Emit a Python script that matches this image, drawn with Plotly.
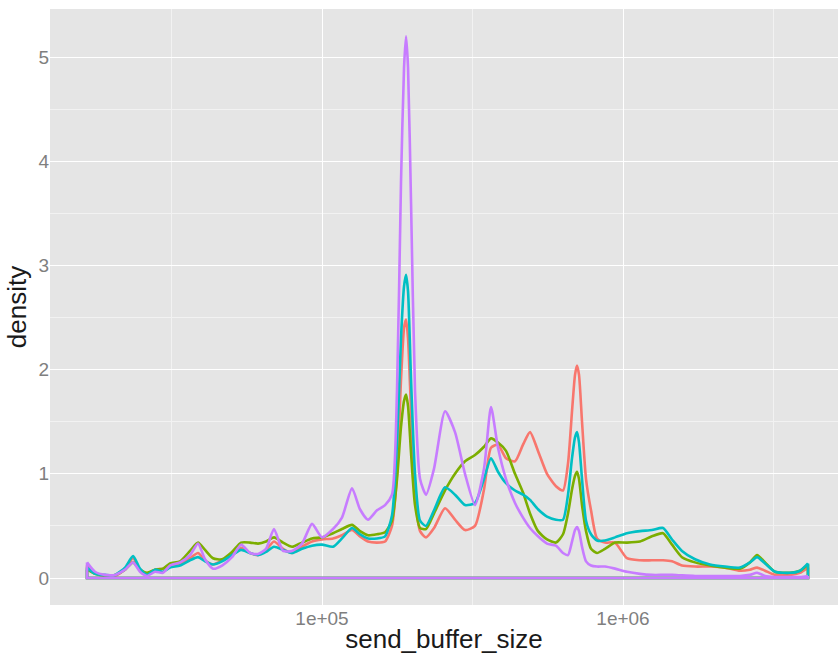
import plotly.graph_objects as go

# send_buffer_size sample points (shared grid)
send_buffer_size = [
    16570, 17610, 19020, 20530, 22160, 23560, 24850, 26220, 27870, 29630,
    31260, 33750, 36430, 38730, 40860, 43440, 46550, 50230, 53820, 57670,
    61300, 65160, 69260, 74210, 79530, 85820, 92640, 100000, 108800, 116500,
    125800, 133700, 142200, 152300, 162000, 170800, 177500, 183000, 187300, 190200,
    193100, 197600, 203700, 211700, 221600, 235600, 256300, 276600, 298600, 322300,
    345300, 364300, 384300, 408600, 437700, 465400, 491000, 521900, 559200, 598900,
    631900, 656600, 677000, 692700, 703400, 714300, 730900, 753600, 783000, 819700,
    871400, 940600, 1031000, 1139000, 1248000, 1358000, 1455000, 1570000, 1735000, 1945000,
    2183000, 2447000, 2642000, 2788000, 2964000, 3199000, 3588000, 3873000, 4117000,
]

density_red = [
    0.12, 0.05, 0.02, 0.02, 0.08, 0.19, 0.08, 0.04, 0.08, 0.09,
    0.12, 0.14, 0.19, 0.24, 0.17, 0.13, 0.17, 0.23, 0.29, 0.24,
    0.22, 0.27, 0.35, 0.28, 0.24, 0.30, 0.35, 0.37, 0.38, 0.41,
    0.46, 0.40, 0.35, 0.34, 0.35, 0.50, 1.00, 1.90, 2.40, 2.48,
    2.30, 1.60, 0.80, 0.45, 0.39, 0.48, 0.67, 0.56, 0.46, 0.50,
    0.85, 1.25, 1.28, 1.15, 1.12, 1.28, 1.40, 1.22, 1.00, 0.88,
    0.84, 1.10, 1.60, 1.95, 2.04, 1.95, 1.50, 0.95, 0.65, 0.38,
    0.34, 0.34, 0.19, 0.17, 0.17, 0.17, 0.16, 0.12, 0.11, 0.11,
    0.10, 0.07, 0.08, 0.10, 0.07, 0.03, 0.03, 0.05, 0.10,
]

density_green = [
    0.08, 0.04, 0.02, 0.03, 0.08, 0.15, 0.08, 0.05, 0.08, 0.09,
    0.14, 0.16, 0.26, 0.34, 0.27, 0.19, 0.18, 0.25, 0.34, 0.34,
    0.33, 0.35, 0.39, 0.34, 0.30, 0.34, 0.38, 0.39, 0.43, 0.47,
    0.51, 0.45, 0.41, 0.42, 0.44, 0.55, 0.95, 1.45, 1.70, 1.76,
    1.65, 1.20, 0.70, 0.48, 0.47, 0.62, 0.84, 1.00, 1.12, 1.18,
    1.26, 1.34, 1.30, 1.22, 1.00, 0.82, 0.62, 0.45, 0.37, 0.34,
    0.42, 0.62, 0.85, 0.98, 1.02, 0.95, 0.70, 0.45, 0.28, 0.24,
    0.28, 0.34, 0.34, 0.35, 0.40, 0.43, 0.32, 0.20, 0.15, 0.12,
    0.10, 0.09, 0.15, 0.22, 0.15, 0.06, 0.05, 0.07, 0.13,
]

density_cyan = [
    0.10, 0.04, 0.03, 0.03, 0.10, 0.21, 0.09, 0.03, 0.08, 0.06,
    0.10, 0.12, 0.17, 0.20, 0.16, 0.13, 0.16, 0.22, 0.27, 0.24,
    0.22, 0.25, 0.30, 0.27, 0.24, 0.28, 0.31, 0.32, 0.30, 0.38,
    0.48, 0.42, 0.38, 0.38, 0.40, 0.60, 1.30, 2.30, 2.80, 2.91,
    2.75, 1.90, 1.00, 0.55, 0.50, 0.65, 0.87, 0.80, 0.70, 0.72,
    0.95, 1.15, 1.02, 0.91, 0.84, 0.80, 0.75, 0.66, 0.59, 0.56,
    0.56, 0.80, 1.15, 1.35, 1.40, 1.30, 0.95, 0.55, 0.42, 0.36,
    0.36, 0.39, 0.43, 0.45, 0.46, 0.48, 0.37, 0.26, 0.18, 0.13,
    0.11, 0.10, 0.15, 0.20, 0.14, 0.06, 0.05, 0.07, 0.14,
]

density_purple = [
    0.15, 0.06, 0.03, 0.03, 0.08, 0.15, 0.06, 0.02, 0.06, 0.05,
    0.12, 0.15, 0.22, 0.33, 0.18, 0.09, 0.12, 0.20, 0.32, 0.24,
    0.23, 0.28, 0.47, 0.26, 0.26, 0.33, 0.52, 0.39, 0.47, 0.58,
    0.86, 0.66, 0.56, 0.65, 0.70, 0.80, 1.80, 3.80, 4.90, 5.20,
    4.90, 3.60, 1.80, 0.95, 0.80, 1.05, 1.60, 1.40, 1.00, 0.70,
    1.05, 1.64, 1.25, 0.95, 0.72, 0.58, 0.48, 0.40, 0.33, 0.31,
    0.24, 0.22, 0.35, 0.46, 0.49, 0.45, 0.30, 0.16, 0.12, 0.11,
    0.11, 0.09, 0.06, 0.04, 0.03, 0.03, 0.03, 0.025, 0.02, 0.02,
    0.02, 0.02, 0.03, 0.05, 0.02, 0.01, 0.01, 0.01, 0.02,
]

series = [
    ("a", density_red, "#F8766D"),
    ("b", density_green, "#7CAE00"),
    ("c", density_cyan, "#00BFC4"),
    ("d", density_purple, "#C77CFF"),
]

y_ticks = [0, 1, 2, 3, 4, 5]
x_ticks = [1e5, 1e6]
x_tick_text = ["1e+05", "1e+06"]
x_minor = [10 ** 4.5, 10 ** 5.5, 10 ** 6.5]

fig = go.Figure()
for name, ys, color in series:
    fig.add_trace(go.Scatter(
        x=send_buffer_size, y=ys, mode="lines", name=name,
        line=dict(color=color, width=2.6, shape="spline", smoothing=0.6),
        showlegend=False, hoverinfo="skip",
    ))
    # outline of the density polygon: vertical edges + baseline
    fig.add_trace(go.Scatter(
        x=[send_buffer_size[0], send_buffer_size[0], send_buffer_size[-1], send_buffer_size[-1]],
        y=[ys[0], 0, 0, ys[-1]], mode="lines",
        line=dict(color=color, width=2.6),
        showlegend=False, hoverinfo="skip",
    ))

font_family = "Liberation Sans, Arial, sans-serif"
fig.update_layout(
    width=838, height=654,
    margin=dict(l=50, r=0, t=9, b=49),
    paper_bgcolor="white",
    plot_bgcolor="#E5E5E5",
    font=dict(family=font_family),
    showlegend=False,
)
fig.update_xaxes(
    type="log",
    range=[4.0963, 6.7143],
    tickvals=x_ticks, ticktext=x_tick_text,
    tickfont=dict(size=19, color="#7F7F7F", family=font_family),
    showgrid=True, gridcolor="white", gridwidth=1.3,
    minor=dict(tickvals=x_minor, showgrid=True, gridcolor="#F2F2F2", gridwidth=0.7),
    zeroline=False, showline=False, ticks="",
    title=dict(text="send_buffer_size", font=dict(size=26, color="#1A1A1A", family=font_family), standoff=2),
    automargin=False,
)
fig.update_yaxes(
    range=[-0.259, 5.461],
    tickvals=y_ticks,
    tickfont=dict(size=19, color="#7F7F7F", family=font_family),
    showgrid=True, gridcolor="white", gridwidth=1.3,
    minor=dict(tick0=0, dtick=0.5, showgrid=True, gridcolor="#F2F2F2", gridwidth=0.7),
    zeroline=False, showline=False, ticks="",
    title=dict(text="density", font=dict(size=26, color="#1A1A1A", family=font_family), standoff=4),
    automargin=False,
)

fig.write_html("out.html")
